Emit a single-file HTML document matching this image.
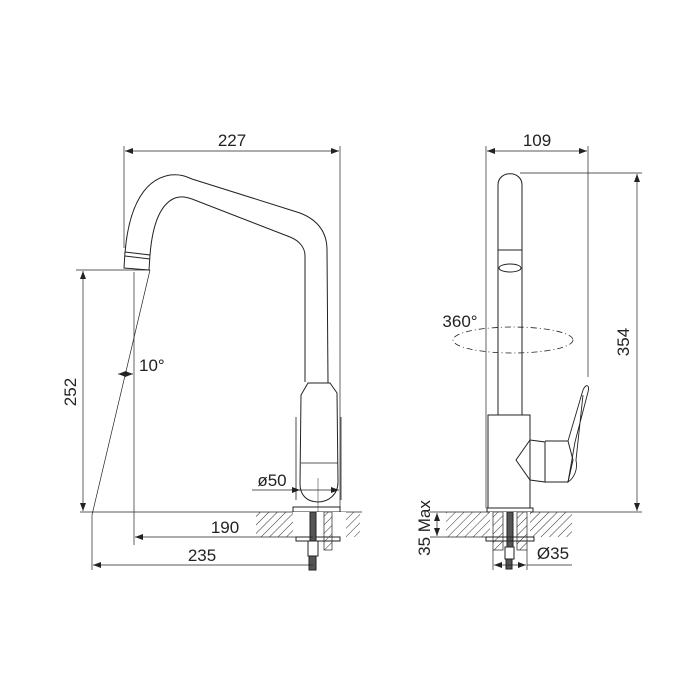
<!DOCTYPE html>
<html><head><style>html,body{margin:0;padding:0;background:#fff}svg{display:block}text{font-family:"Liberation Sans",sans-serif;fill:#222}</style></head>
<body>
<svg width="700" height="700" viewBox="0 0 700 700" xmlns="http://www.w3.org/2000/svg">
<defs>
<pattern id="h" width="6" height="6" patternUnits="userSpaceOnUse" patternTransform="rotate(45)"><line x1="0" y1="0" x2="0" y2="6" stroke="#333" stroke-width="1"/></pattern>
<marker id="a" markerWidth="8" markerHeight="6" refX="8" refY="3" orient="auto-start-reverse" markerUnits="userSpaceOnUse"><path d="M0,0 L8,3 L0,6 z" fill="#222"/></marker>
</defs>
<g stroke="#222" stroke-width="1" fill="none">
<line x1="124" y1="146" x2="124" y2="248" stroke-width="0.7"/>
<line x1="340" y1="146" x2="340" y2="510" stroke-width="0.7"/>
<line x1="125" y1="151" x2="339" y2="151" stroke-width="0.7" marker-start="url(#a)" marker-end="url(#a)"/>
<path d="M125,253 C128,215 140,180 170,175 C180,174 185,176 192,179 L300,213 C318,220 327,232 327,250 L328,383"/>
<path d="M150,255 C152,230 158,205 175,198 C182,196 186,197 192,199 L290,237 C300,241 305,248 305,256 L305,382"/>
<path d="M125,252 L150,255 L149,270 L124,268 Z"/>
<line x1="125" y1="256" x2="150" y2="259"/>
<path d="M308,383 L330,383 L337,393 L338,482 C338,495 328,502 318,502 C306,502 300,494 300,484 L301,395 Z"/>
<path d="M301,463 L338,463" stroke-width="0.8"/>
<path d="M296,417 L296,500 M341,417 L341,500" stroke-width="0.8"/>
<rect x="293" y="507" width="47" height="5"/>
<line x1="318" y1="478" x2="318" y2="512" stroke-width="0.5"/>
<line x1="80" y1="512" x2="362" y2="512" stroke-width="0.8"/>
<rect x="256" y="512" width="104" height="25" fill="url(#h)" stroke="none"/>
<rect x="293" y="512" width="53" height="25" fill="#fff" stroke="none"/>
<rect x="296" y="537" width="44" height="4"/>
<rect x="310" y="512" width="6" height="29" fill="#555"/>
<rect x="324" y="512" width="8" height="38" fill="url(#h)" stroke-width="0.7"/>
<rect x="308" y="541" width="10" height="15"/>
<rect x="309" y="556" width="7" height="14" fill="#555"/>
<line x1="76" y1="270" x2="150" y2="270" stroke-width="0.7"/>
<line x1="83" y1="271" x2="83" y2="511" stroke-width="0.7" marker-start="url(#a)" marker-end="url(#a)"/>
<line x1="150" y1="270" x2="92" y2="515" stroke-width="0.7"/>
<line x1="134" y1="272" x2="134" y2="545" stroke-width="0.7"/>
<line x1="118" y1="374" x2="133" y2="374" stroke-width="0.7" marker-start="url(#a)" marker-end="url(#a)"/>
<line x1="92" y1="515" x2="92" y2="570" stroke-width="0.7"/>
<line x1="135" y1="537" x2="313" y2="537" stroke-width="0.7" marker-start="url(#a)"/>
<line x1="93" y1="565" x2="313" y2="565" stroke-width="0.7" marker-start="url(#a)"/>
<line x1="252" y1="490" x2="339" y2="490" stroke-width="0.7" marker-end="url(#a)"/>
<line x1="293" y1="490" x2="300" y2="490" stroke-width="0.7" marker-end="url(#a)"/>
<line x1="486" y1="146" x2="486" y2="508" stroke-width="0.7"/>
<line x1="588" y1="146" x2="588" y2="377" stroke-width="0.7"/>
<line x1="487" y1="151" x2="587" y2="151" stroke-width="0.7" marker-start="url(#a)" marker-end="url(#a)"/>
<path d="M498,415 L498,185 C498,170 522,170 522,185 L522,415"/>
<line x1="498" y1="250" x2="522" y2="250"/>
<ellipse cx="510" cy="268" rx="11" ry="4"/>
<ellipse cx="513" cy="340" rx="60" ry="13" stroke-dasharray="6,3,1,3" stroke-width="0.8"/>
<rect x="488" y="415" width="42" height="93"/>
<path d="M530,440 L545,442 L545,482 L530,480 L516,460 Z"/>
<path d="M545,441 L568,441 L573,460 L568,482 L545,482"/>
<path d="M568,441 L583,390 C586,383 590,385 588,392 L575,442 L568,482 C574,478 578,470 576,460 L583,395" stroke-width="0.9"/>
<rect x="487" y="508" width="46" height="4"/>
<line x1="520" y1="173" x2="642" y2="173" stroke-width="0.7"/>
<line x1="637" y1="174" x2="637" y2="511" stroke-width="0.7" marker-start="url(#a)" marker-end="url(#a)"/>
<line x1="430" y1="512" x2="642" y2="512" stroke-width="0.8"/>
<rect x="446" y="512" width="126" height="25" fill="url(#h)" stroke="none"/>
<rect x="490" y="512" width="40" height="25" fill="#fff" stroke="none"/>
<rect x="493" y="512" width="10" height="38" fill="url(#h)" stroke-width="0.7"/>
<rect x="517" y="512" width="10" height="38" fill="url(#h)" stroke-width="0.7"/>
<rect x="507" y="512" width="6" height="35" fill="#555"/>
<rect x="486" y="537" width="48" height="4"/>
<rect x="505" y="547" width="9" height="12"/>
<rect x="506" y="559" width="6" height="10" fill="#555"/>
<line x1="430" y1="537" x2="486" y2="537" stroke-width="0.7"/>
<line x1="437" y1="513" x2="437" y2="536" stroke-width="0.7" marker-start="url(#a)" marker-end="url(#a)"/>
<line x1="493" y1="550" x2="493" y2="570" stroke-width="0.7"/>
<line x1="527" y1="550" x2="527" y2="570" stroke-width="0.7"/>
<line x1="494" y1="565" x2="526" y2="565" stroke-width="0.7" marker-start="url(#a)" marker-end="url(#a)"/>
<line x1="527" y1="565" x2="572" y2="565" stroke-width="0.7"/>
</g>
<g font-size="17">
<text x="232" y="146" text-anchor="middle">227</text>
<text x="537" y="146" text-anchor="middle">109</text>
<text x="139" y="371">10°</text>
<text x="460" y="327" text-anchor="middle">360°</text>
<text x="272" y="486" text-anchor="middle">ø50</text>
<text x="225" y="533" text-anchor="middle">190</text>
<text x="202" y="561" text-anchor="middle">235</text>
<text x="553" y="559" text-anchor="middle">Ø35</text>
<text transform="translate(76,392) rotate(-90)" text-anchor="middle">252</text>
<text transform="translate(629,342) rotate(-90)" text-anchor="middle">354</text>
<text transform="translate(430,528) rotate(-90)" text-anchor="middle">35 Max</text>
</g>
</svg>
</body></html>
